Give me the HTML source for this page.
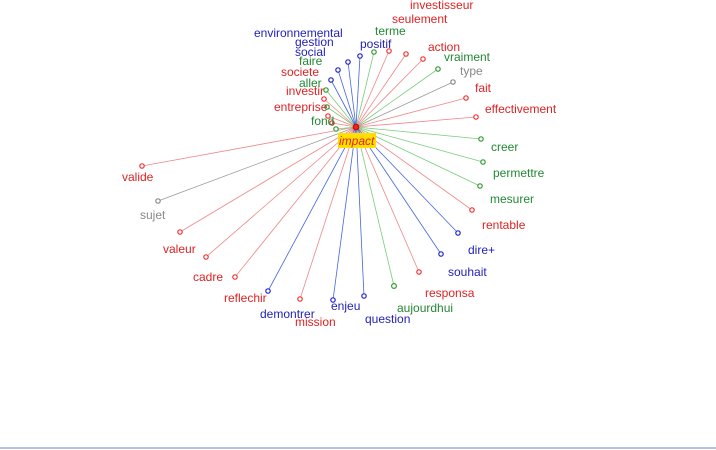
<!DOCTYPE html>
<html><head><meta charset="utf-8"><style>
html,body{margin:0;padding:0;background:#fff;width:716px;height:450px;overflow:hidden}
svg text{font-family:"Liberation Sans",sans-serif;font-size:12px}
</style></head><body>
<svg width="716" height="450" viewBox="0 0 716 450" xmlns="http://www.w3.org/2000/svg">
<g stroke-width="0.8">
<!-- lines -->
<g stroke="#e88">
<line x1="356" y1="127" x2="389" y2="51"/><line x1="356" y1="127" x2="406" y2="54"/><line x1="356" y1="127" x2="423" y2="59"/>
<line x1="356" y1="127" x2="466" y2="98"/><line x1="356" y1="127" x2="476" y2="117"/><line x1="356" y1="127" x2="142" y2="166"/>
<line x1="356" y1="127" x2="180" y2="232"/><line x1="356" y1="127" x2="206" y2="257"/><line x1="356" y1="127" x2="235" y2="277"/>
<line x1="356" y1="127" x2="300" y2="299"/><line x1="356" y1="127" x2="419" y2="272"/><line x1="356" y1="127" x2="472" y2="210"/>
<line x1="356" y1="127" x2="324" y2="99"/><line x1="356" y1="127" x2="328" y2="116"/><line x1="356" y1="127" x2="332" y2="123"/>
</g>
<g stroke="#7c7">
<line x1="356" y1="127" x2="374" y2="52"/><line x1="356" y1="127" x2="438" y2="69"/><line x1="356" y1="127" x2="481" y2="139"/>
<line x1="356" y1="127" x2="483" y2="162"/><line x1="356" y1="127" x2="480" y2="186"/><line x1="356" y1="127" x2="394" y2="286"/>
<line x1="356" y1="127" x2="326" y2="90"/><line x1="356" y1="127" x2="327" y2="107"/><line x1="356" y1="127" x2="336" y2="129"/>
</g>
<g stroke="#999"><line x1="356" y1="127" x2="453" y2="82"/><line x1="356" y1="127" x2="158" y2="201"/></g>
<g stroke="#46d">
<line x1="356" y1="127" x2="360" y2="56"/><line x1="356" y1="127" x2="348" y2="62"/><line x1="356" y1="127" x2="338" y2="70"/>
<line x1="356" y1="127" x2="331" y2="80"/><line x1="356" y1="127" x2="268" y2="291"/><line x1="356" y1="127" x2="333" y2="300"/>
<line x1="356" y1="127" x2="364" y2="296"/><line x1="356" y1="127" x2="441" y2="254"/><line x1="356" y1="127" x2="458" y2="233"/>
</g>
</g>
<g stroke-width="1.2" fill="#fff">
<g stroke="#e33">
<circle cx="389" cy="51" r="2.2"/><circle cx="406" cy="54" r="2.2"/><circle cx="423" cy="59" r="2.2"/><circle cx="466" cy="98" r="2.2"/>
<circle cx="476" cy="117" r="2.2"/><circle cx="142" cy="166" r="2.2"/><circle cx="180" cy="232" r="2.2"/><circle cx="206" cy="257" r="2.2"/>
<circle cx="235" cy="277" r="2.2"/><circle cx="300" cy="299" r="2.2"/><circle cx="419" cy="272" r="2.2"/><circle cx="472" cy="210" r="2.2"/>
<circle cx="324" cy="99" r="2.2"/><circle cx="328" cy="116" r="2.2"/><circle cx="332" cy="123" r="2.2"/>
</g>
<g stroke="#393">
<circle cx="374" cy="52" r="2.2"/><circle cx="438" cy="69" r="2.2"/><circle cx="481" cy="139" r="2.2"/><circle cx="483" cy="162" r="2.2"/>
<circle cx="480" cy="186" r="2.2"/><circle cx="394" cy="286" r="2.4"/><circle cx="326" cy="90" r="2.2"/><circle cx="327" cy="107" r="2.2"/><circle cx="336" cy="129" r="2.2"/>
</g>
<g stroke="#888"><circle cx="453" cy="82" r="2.2"/><circle cx="158" cy="201" r="2.2"/></g>
<g stroke="#22c">
<circle cx="360" cy="56" r="2.2"/><circle cx="348" cy="62" r="2.2"/><circle cx="338" cy="70" r="2.2"/><circle cx="331" cy="80" r="2.2"/>
<circle cx="268" cy="291" r="2.2"/><circle cx="333" cy="300" r="2.2"/><circle cx="364" cy="296" r="2.2"/><circle cx="441" cy="254" r="2.2"/><circle cx="458" cy="233" r="2.2"/>
</g>
</g>
<rect x="338" y="133" width="38" height="15" fill="#ffde00"/>
<circle cx="356" cy="127" r="2.8" fill="#e22" stroke="#c00"/>
<text x="339" y="145" fill="#d22" font-style="italic">impact</text>
<g fill="#d22">
<text x="410" y="9">investisseur</text><text x="392" y="23">seulement</text><text x="428" y="51">action</text>
<text x="475" y="92">fait</text><text x="485" y="113">effectivement</text><text x="122" y="181">valide</text>
<text x="163" y="253">valeur</text><text x="193" y="281">cadre</text><text x="224" y="302">reflechir</text>
<text x="295" y="326">mission</text><text x="425" y="297">responsa</text><text x="482" y="229">rentable</text>
<text x="281" y="76">societe</text><text x="286" y="95">investir</text><text x="274" y="111">entreprise</text>
</g>
<g fill="#283">
<text x="375" y="35">terme</text><text x="444" y="61">vraiment</text><text x="491" y="151">creer</text>
<text x="493" y="177">permettre</text><text x="490" y="203">mesurer</text><text x="397" y="312">aujourdhui</text>
<text x="299" y="65">faire</text><text x="299" y="87">aller</text><text x="311" y="125">fond</text>
</g>
<g fill="#888"><text x="460" y="75">type</text><text x="140" y="219">sujet</text></g>
<g fill="#22b">
<text x="254" y="37">environnemental</text><text x="295" y="46">gestion</text><text x="295" y="56">social</text>
<text x="360" y="48">positif</text><text x="260" y="318">demontrer</text><text x="331" y="310">enjeu</text>
<text x="365" y="323">question</text><text x="448" y="276">souhait</text><text x="468" y="254">dire+</text>
</g>
<rect x="0" y="447" width="716" height="2" fill="#b8bfe0"/>
</svg>
</body></html>
